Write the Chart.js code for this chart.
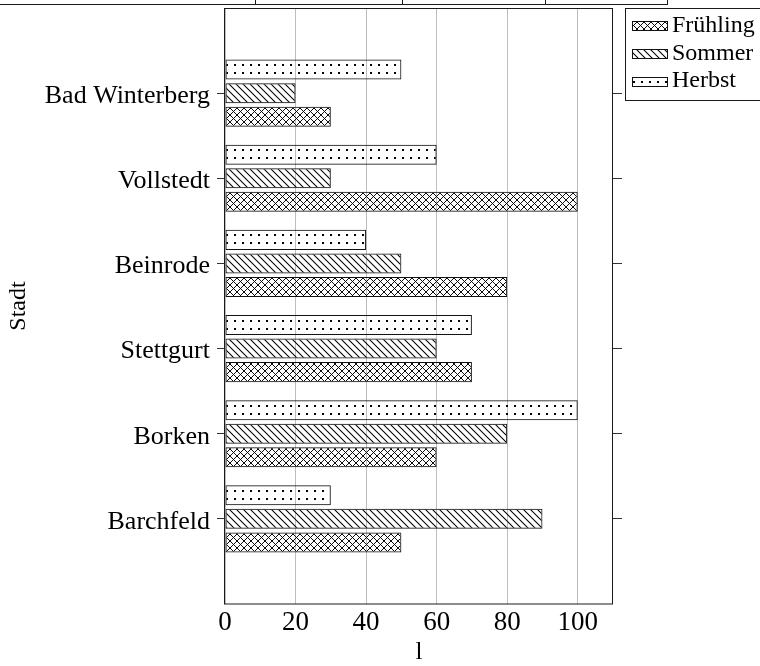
<!DOCTYPE html>
<html><head><meta charset="utf-8">
<script src="https://cdn.jsdelivr.net/npm/chart.js@4/dist/chart.umd.min.js"></script>
<style>html,body{margin:0;padding:0;background:#fff;overflow:hidden}#wrap{width:760px;height:666px;position:relative}</style>
</head><body><div id="wrap"><canvas id="c" width="760" height="666"></canvas></div>
<script>
const cities = ['Bad Winterberg','Vollstedt','Beinrode','Stettgurt','Borken','Barchfeld'];
const fruehling = [30,100,80,70,60,50];
const sommer = [20,30,50,60,80,90];
const herbst = [50,60,40,70,100,30];
const xTicks = [0,20,40,60,80,100];
const seriesNames = ['Frühling','Sommer','Herbst'];
const seriesKinds = ['cross','hatch','dots'];

const FONT = 'Liberation Serif';
const CAT_PCT = 0.83, BAR_PCT = 0.85;
const canvas = document.getElementById('c');
const ctx = canvas.getContext('2d');

function makePattern(kind, offX, offY){
  const s = kind==='dots' ? 8 : 7;
  const c = document.createElement('canvas'); c.width=s; c.height=s;
  const g = c.getContext('2d');
  g.strokeStyle='#000'; g.lineWidth = kind==='cross' ? 0.95 : 1.05;
  if(kind==='dots'){ g.fillStyle='#000'; g.fillRect(3,3,2,2); }
  else {
    g.beginPath();
    g.moveTo(-1,-1); g.lineTo(s+1,s+1);
    g.moveTo(-1,s-1); g.lineTo(1,s+1);
    g.moveTo(s-1,-1); g.lineTo(s+1,1);
    if(kind==='cross'){
      g.moveTo(s+1,-1); g.lineTo(-1,s+1);
      g.moveTo(1,-1); g.lineTo(-1,1);
      g.moveTo(s+1,s-1); g.lineTo(s-1,s+1);
    }
    g.stroke();
  }
  const p = ctx.createPattern(c,'repeat');
  if(p.setTransform) p.setTransform(new DOMMatrix().translate(Math.round(offX||0), Math.round(offY||0)));
  return p;
}

const padded = (arr) => [null, ...arr, null];
const labels = ['', ...cities, ''];

function barBg(kind){
  return (c) => {
    if(c.type!=='data') return 'rgba(0,0,0,0)';
    const ys = c.chart.scales.y;
    if(!ys) return makePattern(kind,0,0);
    const center = ys.getPixelForValue(c.dataIndex);
    const spacing = ys.getPixelForValue(1) - ys.getPixelForValue(0);
    const group = spacing*CAT_PCT, pitch = group/3, th = pitch*BAR_PCT;
    const top = center - group/2 + c.datasetIndex*pitch + (pitch-th)/2;
    return makePattern(kind, 223, top+1.5);
  };
}

// draw order top->bottom within group: Herbst, Sommer, Frühling
const dsOrder = [2,1,0];
const seriesData = [fruehling, sommer, herbst];
const datasets = dsOrder.map(i => ({
  label: seriesNames[i],
  data: padded(seriesData[i]),
  backgroundColor: barBg(seriesKinds[i]),
  borderColor: '#111',
  borderWidth: 1,
  borderSkipped: false,
  categoryPercentage: CAT_PCT,
  barPercentage: BAR_PCT
}));

const decor = {
  id: 'decor',
  afterDraw(chart){
    const g = chart.ctx, a = chart.chartArea;
    g.save();
    g.strokeStyle = '#1a1a1a'; g.lineWidth = 1;
    g.strokeRect(Math.round(a.left)-0.5, Math.round(a.top)+0.5, Math.round(a.width), Math.round(a.height)-0.5);
    g.beginPath();
    g.moveTo(0,4.5); g.lineTo(668,4.5);
    [255.5,402.5,545.5,667.5].forEach(x=>{ g.moveTo(x,0); g.lineTo(x,4.5); });
    g.stroke();
    const lx = 625.5, ly = 8.5;
    g.strokeRect(lx, ly, 200, 92);
    const rows = [25.5, 53.5, 81];
    for(let i=0;i<3;i++){
      const sy = Math.round(rows[i]-4.5), sx = 632;
      g.fillStyle = makePattern(seriesKinds[i], sx-2, sy+1);
      g.fillRect(sx, sy, 35, 9);
      g.strokeStyle = '#111';
      g.strokeRect(sx+0.5, sy+0.5, 35, 9);
      g.fillStyle = '#000';
      g.font = '24px "' + FONT + '"';
      g.textBaseline = 'alphabetic';
      g.textAlign = 'left';
      g.fillText(seriesNames[i], 672, rows[i]+6);
    }
    g.restore();
  }
};

const tickCol = (c) => (c.tick && c.tick.label) ? '#333' : 'rgba(0,0,0,0)';
const noPad = s => { s.paddingTop = 0; s.paddingBottom = 0; };

new Chart(canvas, {
  type: 'bar',
  data: { labels, datasets },
  options: {
    indexAxis: 'y',
    responsive: false,
    animation: false,
    devicePixelRatio: 1,
    layout: { padding: { top: 8, left: 0, right: 0, bottom: 0 } },
    plugins: { legend: { display: false }, tooltip: { enabled: false } },
    scales: {
      x: {
        type: 'linear', min: 0, max: 110, position: 'bottom',
        afterBuildTicks: s => { s.ticks = xTicks.map(v => ({ value: v })); },
        grid: { color: '#bdbdbd', lineWidth: 1, drawTicks: false },
        border: { display: false },
        ticks: { font: { family: FONT, size: 27 }, color: '#000', padding: 3 },
        title: { display: true, text: 'l', color: '#000', font: { family: FONT, size: 25, lineHeight: 1 }, padding: { top: 0, bottom: 1 } },
        afterFit: s => { s.height = 62; s.paddingLeft = 0; s.paddingRight = 0; }
      },
      y: {
        type: 'category', labels, offset: false, position: 'left',
        grid: { offset: false, drawOnChartArea: false, tickLength: 8, tickColor: tickCol, lineWidth: 1 },
        border: { display: false },
        ticks: { font: { family: FONT, size: 26 }, color: '#000', padding: 7, autoSkip: false, labelOffset: 3 },
        title: { display: true, text: 'Stadt', color: '#000', font: { family: FONT, size: 24, lineHeight: 1 }, padding: { top: 7, bottom: 0 } },
        afterFit: s => { s.width = 225; noPad(s); }
      },
      y2: {
        type: 'category', labels, offset: false, position: 'right',
        grid: { offset: false, drawOnChartArea: false, tickLength: 9, tickColor: tickCol, lineWidth: 1 },
        border: { display: false },
        ticks: { display: false, autoSkip: false },
        afterFit: s => { s.width = 147; noPad(s); }
      }
    }
  },
  plugins: [decor]
});
</script>
</body></html>
